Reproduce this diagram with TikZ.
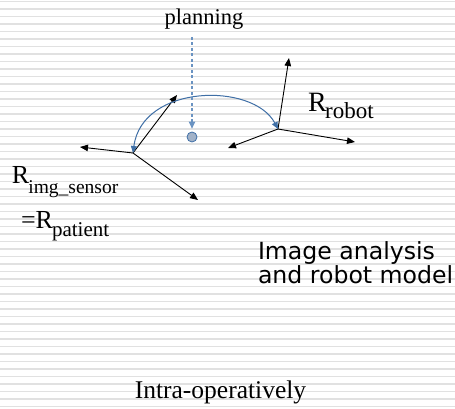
\documentclass[tikz,border=0pt]{standalone}
\usepackage{fontspec}
\setmainfont{Liberation Serif}
\newfontfamily\sansf{DejaVu Sans}
\usetikzlibrary{arrows.meta}
\definecolor{stripe}{HTML}{E1E1E1}
\definecolor{arcblue}{HTML}{3F6FA6}
\definecolor{dashblue}{HTML}{6A93C2}
\definecolor{dotfill}{HTML}{A2B2C8}
\begin{document}
\begin{tikzpicture}[x=1pt,y=-1pt,
  axisarrow/.style={-{Triangle[length=8pt,width=6.5pt]}, line width=0.9pt, black},
  arcarrow/.style={{Triangle[length=7pt,width=6pt]}-{Triangle[length=7pt,width=6pt]}, line width=1pt, arcblue},
  dasharrow/.style={-{Triangle[length=7pt,width=6.5pt]}, line width=1.1pt, dashblue, dash pattern=on 3pt off 2.5pt},
  lbl/.style={inner sep=0pt, outer sep=0pt}]
\useasboundingbox (0,0) rectangle (455,409);
\fill[white] (0,0) rectangle (455,409);
\foreach \i in {0,...,54} \fill[stripe] (0,{0.6+\i*7.5}) rectangle (455,{2.4+\i*7.5});

% frames
\coordinate (L) at (133,153);
\coordinate (Lx) at (80,147);
\coordinate (Ly) at (177,95);
\coordinate (Lz) at (198,200);
\coordinate (R) at (278,129);
\coordinate (Rx) at (355,142);
\coordinate (Ry) at (289,58);
\coordinate (Rz) at (228,148);
\draw[axisarrow] (L) -- (Lx);
\draw[axisarrow] (L) -- (Ly);
\draw[axisarrow] (L) -- (Lz);
\draw[axisarrow] (R) -- (Rx);
\draw[axisarrow] (R) -- (Ry);
\draw[axisarrow] (R) -- (Rz);

% transformation arc
\draw[arcarrow] (L) .. controls (142,84) and (253,82) .. (R);

% planning
\node[lbl, anchor=base] (plan) at (204,25) {\fontsize{22.5}{22.5}\selectfont planning};
\node[circle, draw=arcblue, fill=dotfill, minimum size=10pt, inner sep=0pt, line width=0.8pt] (dot) at (192,137) {};
\coordinate (ptop) at (192,37);
\draw[dasharrow, shorten >=3pt] (ptop) -- (dot.north);

% labels
\node[lbl, anchor=base west] (rrobot) at (308,112) {\fontsize{28}{28}\selectfont R\kern-1.5pt\raisebox{-7pt}{\fontsize{23}{23}\selectfont robot}};
\node[lbl, anchor=base west] (rimg) at (12,183) {\fontsize{26}{26}\selectfont R\kern-1pt\raisebox{-10pt}{\fontsize{19.5}{19.5}\selectfont img\_sensor}};
\node[lbl, anchor=base west] (rpat) at (21,228) {\fontsize{26}{26}\selectfont =R\kern-1pt\raisebox{-8pt}{\fontsize{21}{21}\selectfont patient}};
\node[lbl, anchor=base west] (ia1) at (258,259) {\sansf\fontsize{23.6}{23.6}\selectfont Image analysis};
\node[lbl, anchor=base west] (ia2) at (258,283) {\sansf\fontsize{23.6}{23.6}\selectfont and robot model};
\node[lbl, anchor=base] (intra) at (220.5,398) {\fontsize{25.5}{25.5}\selectfont Intra-operatively};
\end{tikzpicture}
\end{document}
